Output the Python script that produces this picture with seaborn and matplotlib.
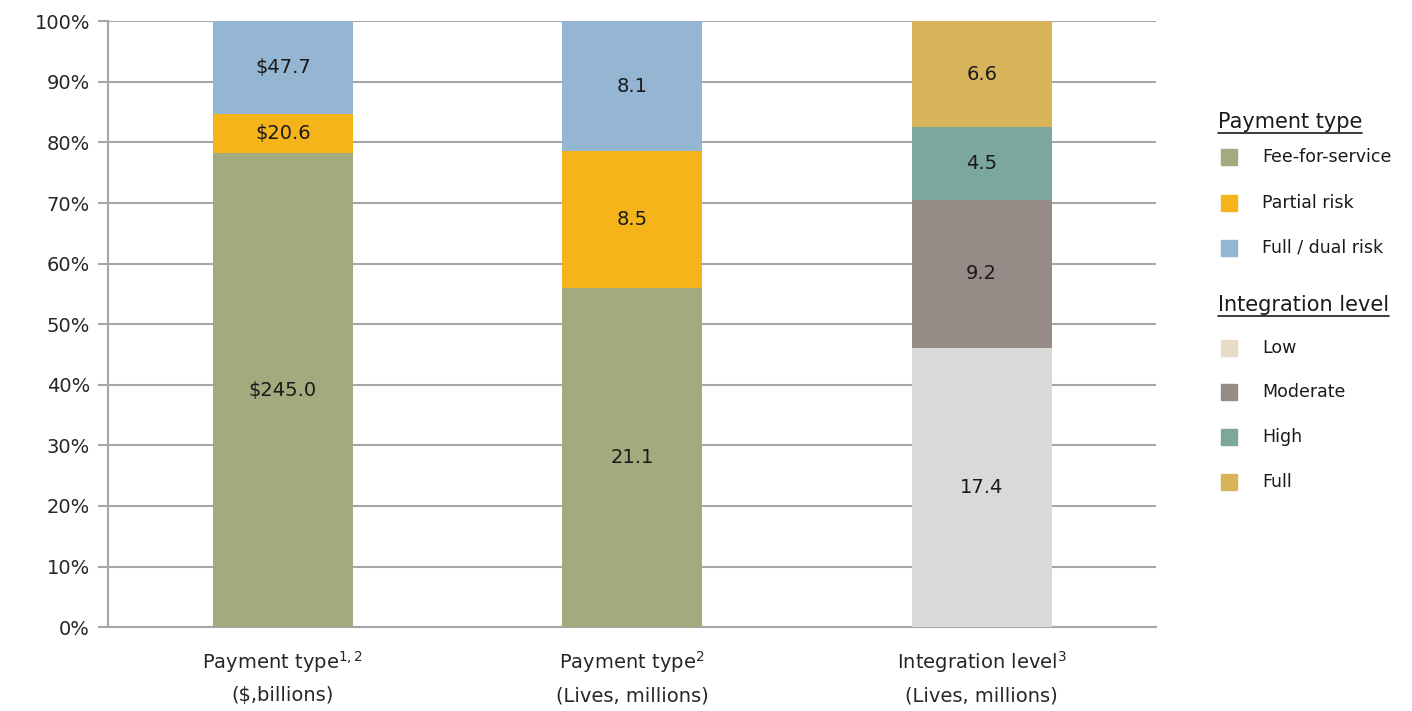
import matplotlib
matplotlib.use("Agg")
import matplotlib.pyplot as plt
import seaborn as sns
import pandas as pd
import numpy as np
from matplotlib.patches import Rectangle
from matplotlib.lines import Line2D

categories = ["Payment type$^{1,2}$\n($,billions)", "Payment type$^{2}$\n(Lives, millions)",
              "Integration level$^{3}$\n(Lives, millions)"]
segments1 = ["Fee-for-service", "Partial risk", "Full / dual risk"]
values1 = [245.0, 20.6, 47.7]
labels1 = ["\\$245.0", "\\$20.6", "\\$47.7"]
values2 = [21.1, 8.5, 8.1]
labels2 = ["21.1", "8.5", "8.1"]
segments3 = ["Low", "Moderate", "High", "Full"]
values3 = [17.4, 9.2, 4.5, 6.6]
labels3 = ["17.4", "9.2", "4.5", "6.6"]

pay_colors = ["#A3AA7E", "#F5B51A", "#94B6D2"]
int_colors_bar = ["#D9D9D9", "#968B87", "#7BA79D", "#D7B35A"]
int_colors_legend = ["#E8DCC4", "#968B87", "#7BA79D", "#D7B35A"]

sns.set_theme(style="white")
plt.rcParams['font.family'] = ['DejaVu Sans']

fig = plt.figure(figsize=(14.12, 7.11), dpi=100)
ax = fig.add_axes([0.0765, 0.118, 0.7425, 0.852])

cat_keys = ["c0", "c1", "c2"]
stacks = [(values1, labels1, pay_colors), (values2, labels2, pay_colors), (values3, labels3, int_colors_bar)]
for ci, (vals, labs, cols) in enumerate(stacks):
    total = sum(vals)
    bottom = 0.0
    for v, lab, col in zip(vals, labs, cols):
        pct = v / total * 100
        df = pd.DataFrame({"cat": [cat_keys[ci]], "pct": [pct]})
        sns.barplot(data=df, x="cat", y="pct", order=cat_keys, bottom=bottom, color=col,
                    width=0.4, saturation=1, ax=ax, edgecolor="none", linewidth=0, zorder=3)
        ax.text(ci, bottom + pct / 2, lab, ha="center", va="center",
                fontsize=14, color="#1a1a1a", zorder=4)
        bottom += pct

ax.set_xlim(-0.5, 2.5)
ax.set_ylim(0, 100)
ax.set_yticks(np.arange(0, 101, 10))
ax.set_yticklabels([f"{t}%" for t in range(0, 101, 10)], fontsize=14, color="#262626")
ax.set_xticks([0, 1, 2])
ax.set_xticklabels(categories, fontsize=14, color="#262626", linespacing=1.75)
ax.tick_params(axis="x", length=0, pad=16)
ax.set_xticks([-0.5, 0.5, 1.5, 2.5], minor=True)
ax.tick_params(axis="x", which="minor", length=8, width=1.5, color="#A6A6A6", direction="out")
ax.tick_params(axis="y", length=7, width=1.5, color="#A6A6A6", direction="out", left=True, pad=6)
ax.yaxis.grid(True, color="#A6A6A6", linewidth=1.5, zorder=0)
ax.set_axisbelow(True)
ax.set_xlabel("")
ax.set_ylabel("")
for s in ["top", "right"]:
    ax.spines[s].set_visible(False)
for s in ["left", "bottom"]:
    ax.spines[s].set_color("#A6A6A6")
    ax.spines[s].set_linewidth(1.5)

# Legend
W, H = 1412.0, 711.0
def fx(px): return px / W
def fy(py): return 1 - py / H

titles = []
t1 = fig.text(fx(1218), fy(122), "Payment type", fontsize=15, va="center", ha="left", color="#1a1a1a")
titles.append(t1)
rows1 = [157, 203, 248]
for name, col, y in zip(segments1, pay_colors, rows1):
    fig.patches.append(Rectangle((fx(1221), fy(y + 8)), fx(16), 16 / H, color=col, transform=fig.transFigure, figure=fig))
    fig.text(fx(1262), fy(y), name, fontsize=12.5, va="center", ha="left", color="#1a1a1a")
t2 = fig.text(fx(1218), fy(305), "Integration level", fontsize=15, va="center", ha="left", color="#1a1a1a")
titles.append(t2)
rows2 = [348, 392, 437, 482]
for name, col, y in zip(segments3, int_colors_legend, rows2):
    fig.patches.append(Rectangle((fx(1221), fy(y + 8)), fx(16), 16 / H, color=col, transform=fig.transFigure, figure=fig))
    fig.text(fx(1262), fy(y), name, fontsize=12.5, va="center", ha="left", color="#1a1a1a")

fig.canvas.draw()
r = fig.canvas.get_renderer()
for t in titles:
    bb = t.get_window_extent(renderer=r).transformed(fig.transFigure.inverted())
    fig.add_artist(Line2D([bb.x0, bb.x1], [bb.y0 - 0.002, bb.y0 - 0.002], color="#1a1a1a",
                          linewidth=1.2, transform=fig.transFigure))

fig.savefig("out.png", dpi=100)
